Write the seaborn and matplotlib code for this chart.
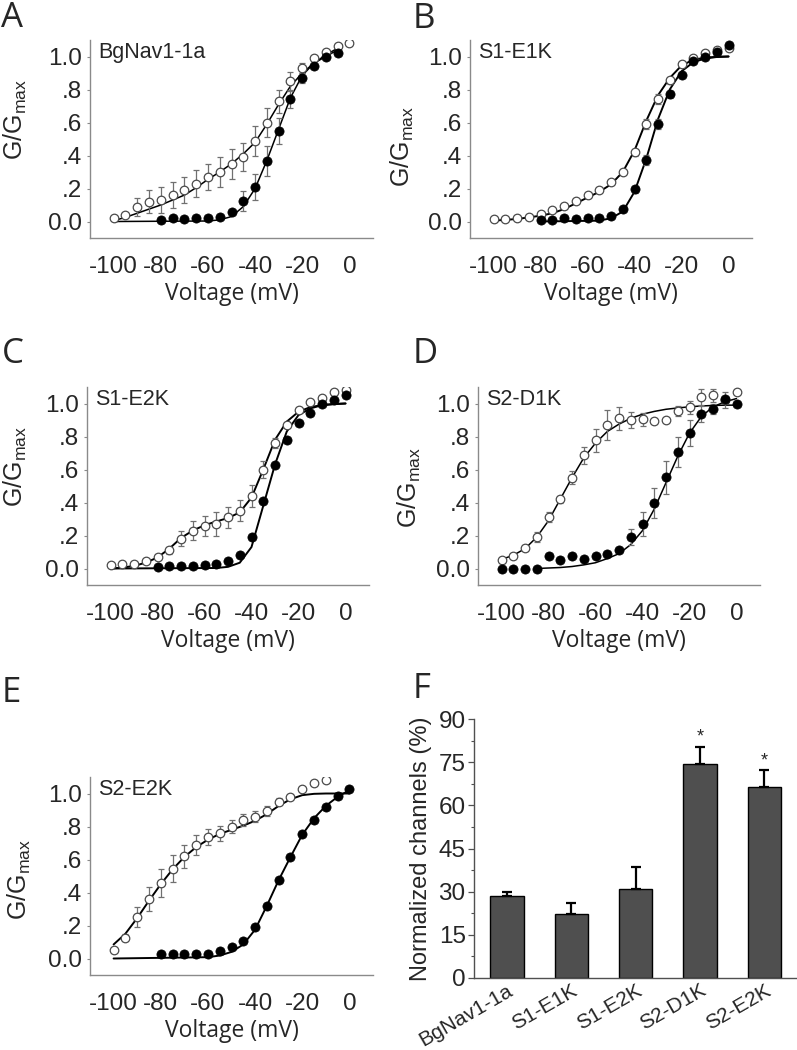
import numpy as np
import pandas as pd
import matplotlib
matplotlib.use("Agg")
import matplotlib.pyplot as plt
import seaborn as sns

# ---------------- data ----------------
volt_full = [-100, -95, -90, -85, -80, -75, -70, -65, -60, -55, -50, -45, -40, -35, -30, -25, -20, -15, -10, -5, 0]
volt_from80 = [-80, -75, -70, -65, -60, -55, -50, -45, -40, -35, -30, -25, -20, -15, -10, -5, 0]

# Panel A  (BgNav1-1a)
a_open_g = [0.02, 0.04, 0.09, 0.12, 0.13, 0.16, 0.19, 0.23, 0.27, 0.30, 0.35, 0.39, 0.49, 0.60, 0.73, 0.85, 0.93, 0.99, 1.03, 1.065, 1.08]
a_open_e = [0, 0, 0.055, 0.07, 0.08, 0.08, 0.08, 0.08, 0.08, 0.09, 0.09, 0.085, 0.09, 0.09, 0.07, 0.055, 0.03, 0.015, 0.01, 0.01, 0]
a_fill_v = [-80, -75, -70, -65, -60, -55, -50, -45, -40, -35, -30, -25, -20, -15, -10, -5]
a_fill_g = [0.01, 0.02, 0.015, 0.02, 0.02, 0.025, 0.06, 0.125, 0.21, 0.365, 0.55, 0.74, 0.87, 0.94, 1.0, 1.02]
a_fill_e = [0, 0, 0, 0, 0, 0, 0.01, 0.06, 0.08, 0.09, 0.08, 0.05, 0.03, 0.01, 0.01, 0.01]
a_open_fit_v = [-100, -95, -90, -85, -80, -75, -70, -65, -60, -55, -50, -45, -40, -35, -30, -25, -20, -15, -10, -5, -3]
a_open_fit_g = [0.005, 0.025, 0.05, 0.075, 0.10, 0.13, 0.16, 0.205, 0.255, 0.30, 0.35, 0.41, 0.48, 0.59, 0.71, 0.82, 0.90, 0.96, 1.01, 1.05, 1.07]
a_fill_fit_v = [-100, -60, -55, -50, -45, -40, -35, -30, -25, -20, -15, -10, -5, -3]
a_fill_fit_g = [0.0, 0.003, 0.01, 0.03, 0.09, 0.20, 0.37, 0.56, 0.75, 0.885, 0.96, 1.0, 1.04, 1.06]

# Panel B  (S1-E1K)
b_open_g = [0.016, 0.016, 0.02, 0.03, 0.045, 0.067, 0.096, 0.127, 0.163, 0.19, 0.24, 0.30, 0.42, 0.59, 0.74, 0.855, 0.955, 0.99, 1.02, 1.04, 1.05]
b_open_e = [0, 0, 0, 0, 0, 0, 0, 0, 0, 0, 0, 0.01, 0.02, 0.03, 0.03, 0.02, 0.01, 0, 0, 0, 0.01]
b_fill_g = [0.01, 0.01, 0.02, 0.015, 0.02, 0.02, 0.035, 0.075, 0.195, 0.375, 0.59, 0.77, 0.89, 0.97, 1.0, 1.03, 1.07]
b_fill_e = [0, 0, 0, 0, 0, 0, 0, 0.01, 0.02, 0.03, 0.03, 0.02, 0.01, 0.01, 0, 0, 0]
b_open_fit_g = [0.005, 0.01, 0.015, 0.025, 0.035, 0.05, 0.075, 0.11, 0.145, 0.18, 0.225, 0.30, 0.43, 0.61, 0.765, 0.87, 0.945, 0.98, 0.993, 0.998, 1.0]
b_fill_fit_v = [-80, -55, -50, -45, -40, -35, -30, -25, -20, -15, -10, -5, 0]
b_fill_fit_g = [0.0, 0.005, 0.02, 0.06, 0.18, 0.38, 0.62, 0.80, 0.91, 0.965, 0.988, 0.997, 1.0]

# Panel C  (S1-E2K)
c_open_g = [0.02, 0.026, 0.03, 0.047, 0.067, 0.11, 0.18, 0.23, 0.26, 0.27, 0.31, 0.35, 0.44, 0.60, 0.76, 0.87, 0.96, 1.01, 1.035, 1.07, 1.08]
c_open_e = [0, 0, 0, 0, 0, 0.02, 0.045, 0.055, 0.06, 0.07, 0.065, 0.065, 0.065, 0.05, 0.03, 0.01, 0, 0, 0, 0, 0]
c_fill_g = [0.012, 0.016, 0.016, 0.016, 0.02, 0.03, 0.047, 0.083, 0.19, 0.41, 0.625, 0.78, 0.88, 0.94, 0.995, 1.02, 1.05]
c_fill_e = [0, 0, 0, 0, 0, 0, 0, 0, 0.01, 0.01, 0.01, 0.01, 0, 0, 0, 0, 0]
c_open_fit_g = [0.0, 0.005, 0.016, 0.035, 0.067, 0.12, 0.185, 0.23, 0.262, 0.285, 0.306, 0.34, 0.43, 0.60, 0.78, 0.89, 0.95, 0.978, 0.99, 0.996, 1.0]
c_fill_fit_v = [-100, -55, -50, -45, -40, -35, -30, -25, -20, -15, -10, -5, 0]
c_fill_fit_g = [0.0, 0.003, 0.01, 0.035, 0.13, 0.38, 0.63, 0.83, 0.93, 0.97, 0.99, 0.997, 1.0]

# Panel D  (S2-D1K)
d_open_g = [0.053, 0.077, 0.124, 0.19, 0.31, 0.42, 0.55, 0.685, 0.777, 0.87, 0.91, 0.90, 0.905, 0.895, 0.90, 0.955, 0.976, 1.04, 1.05, 1.02, 1.07]
d_open_e = [0, 0, 0.02, 0.03, 0.03, 0.02, 0.04, 0.05, 0.07, 0.09, 0.07, 0.05, 0.04, 0, 0, 0.03, 0.04, 0.05, 0.04, 0.05, 0]
d_fill_g = [0.0, 0.0, 0.0, 0.0, 0.073, 0.05, 0.073, 0.057, 0.077, 0.09, 0.114, 0.19, 0.27, 0.395, 0.554, 0.706, 0.82, 0.935, 0.966, 1.026, 1.0]
d_fill_e = [0, 0, 0, 0, 0, 0, 0, 0, 0, 0, 0, 0.05, 0.07, 0.09, 0.10, 0.09, 0.08, 0.05, 0.03, 0, 0]
d_open_fit_g = [0.055, 0.08, 0.12, 0.19, 0.29, 0.42, 0.55, 0.67, 0.76, 0.83, 0.875, 0.91, 0.935, 0.952, 0.965, 0.973, 0.98, 0.985, 0.988, 0.99, 0.99]
d_fill_fit_v = [-85, -80, -75, -70, -65, -60, -55, -50, -45, -40, -35, -30, -25, -20, -15, -10, -5, 0]
d_fill_fit_g = [0.0, 0.003, 0.006, 0.012, 0.022, 0.035, 0.06, 0.09, 0.145, 0.23, 0.36, 0.52, 0.68, 0.82, 0.92, 0.98, 1.01, 1.03]

# Panel E  (S2-E2K)
e_open_v = [-100, -95, -90, -85, -80, -75, -70, -65, -60, -55, -50, -45, -40, -35, -30, -25, -20, -15, -10]
e_open_g = [0.05, 0.127, 0.25, 0.36, 0.455, 0.545, 0.62, 0.687, 0.737, 0.76, 0.80, 0.84, 0.86, 0.895, 0.95, 0.98, 1.026, 1.065, 1.08]
e_open_e = [0, 0.02, 0.06, 0.075, 0.085, 0.08, 0.07, 0.06, 0.05, 0.045, 0.04, 0.035, 0.035, 0.03, 0.02, 0.01, 0, 0, 0]
e_fill_g = [0.026, 0.026, 0.03, 0.03, 0.03, 0.046, 0.067, 0.105, 0.19, 0.32, 0.475, 0.616, 0.754, 0.842, 0.92, 0.984, 1.03]
e_fill_e = [0, 0, 0, 0, 0, 0, 0, 0, 0.01, 0.01, 0.01, 0.01, 0.01, 0, 0, 0, 0]
e_open_fit_g = [0.085, 0.15, 0.245, 0.35, 0.45, 0.54, 0.615, 0.675, 0.72, 0.755, 0.78, 0.805, 0.835, 0.875, 0.925, 0.965, 0.99, 0.998, 1.0, 1.0, 1.0]
e_fill_fit_v = [-100, -60, -55, -50, -45, -40, -35, -30, -25, -20, -15, -10, -5, 0]
e_fill_fit_g = [0.0, 0.008, 0.018, 0.04, 0.085, 0.175, 0.32, 0.475, 0.615, 0.75, 0.85, 0.925, 0.98, 1.02]

# Panel F
f_categories = ["BgNav1-1a", "S1-E1K", "S1-E2K", "S2-D1K", "S2-E2K"]
f_values = [28.4, 22.2, 31.1, 74.5, 66.4]
f_errors = [1.5, 3.9, 7.6, 5.9, 5.8]
f_signif = ["", "", "", "*", "*"]

x_ticks = [-100, -80, -60, -40, -20, 0]
y_ticks = [0.0, 0.2, 0.4, 0.6, 0.8, 1.0]
y_ticklabels = ["0.0", ".2", ".4", ".6", ".8", "1.0"]
f_yticks = [0, 15, 30, 45, 60, 75, 90]

# ---------------- style ----------------
sns.set_style("white")
plt.rcParams["font.family"] = ["Liberation Sans", "DejaVu Sans"]
plt.rcParams["mathtext.fontset"] = "custom"
plt.rcParams["mathtext.rm"] = "Liberation Sans"
plt.rcParams["mathtext.it"] = "Liberation Sans"

W, H = 797, 1050
fig = plt.figure(figsize=(W / 100, H / 100), dpi=100)


def box(x0, x1, y0, y1):
    return [x0 / W, 1 - y1 / H, (x1 - x0) / W, (y1 - y0) / H]


SPINE = "#8a8a8a"
ERR = "#707070"


def gv_panel(rect, name, open_v, open_g, open_e, fill_v, fill_g, fill_e,
             ofit_v, ofit_g, ffit_v, ffit_g, lw=1.4, ylab_xy=(-0.21, 0.5)):
    ax = fig.add_axes(rect)
    sns.lineplot(x=ofit_v, y=ofit_g, ax=ax, color="black", lw=lw,
                 sort=False, estimator=None, zorder=2)
    sns.lineplot(x=ffit_v, y=ffit_g, ax=ax, color="black", lw=lw,
                 sort=False, estimator=None, zorder=2)
    for v, g, e in ((open_v, open_g, open_e), (fill_v, fill_g, fill_e)):
        v = np.asarray(v); g = np.asarray(g); e = np.asarray(e)
        m = e > 0
        ax.errorbar(v[m], g[m], yerr=e[m], fmt="none", ecolor=ERR,
                    elinewidth=0.9, capsize=2.4, capthick=0.9, zorder=3)
    sns.scatterplot(x=open_v, y=open_g, ax=ax, marker="o", s=38,
                    facecolor="white", edgecolor="#4a4a4a", linewidth=0.9,
                    zorder=4)
    sns.scatterplot(x=fill_v, y=fill_g, ax=ax, marker="o", s=44,
                    color="black", edgecolor="black", linewidth=0.5, zorder=5)
    ax.set_xlim(-110, 10)
    ax.set_ylim(-0.1, 1.1)
    ax.set_xticks(x_ticks)
    ax.set_xticklabels([str(t) for t in x_ticks])
    ax.set_yticks(y_ticks)
    ax.set_yticklabels(y_ticklabels)
    for s in ("top", "right"):
        ax.spines[s].set_visible(False)
    for s in ("left", "bottom"):
        ax.spines[s].set_color(SPINE)
        ax.spines[s].set_linewidth(1.0)
    ax.tick_params(axis="y", direction="out", length=2.5, width=0.8,
                   color=SPINE, labelsize=17.5, pad=3, left=True)
    ax.tick_params(axis="x", length=0, labelsize=17.5, pad=13, bottom=True)
    ax.set_ylabel("G/G$_{\\mathrm{max}}$", fontsize=18)
    ax.yaxis.set_label_coords(*ylab_xy)
    ax.set_xlabel("Voltage (mV)", fontsize=16.5, labelpad=3,
                  family=["Open Sans", "DejaVu Sans"])
    ax.text(0.03, 0.99, name, transform=ax.transAxes, ha="left", va="top",
            fontsize=15.5)
    ax.grid(False)
    return ax


gv_panel(box(90, 373, 40, 238), "BgNav1-1a", volt_full, a_open_g, a_open_e,
         a_fill_v, a_fill_g, a_fill_e, a_open_fit_v, a_open_fit_g,
         a_fill_fit_v, a_fill_fit_g, lw=1.1, ylab_xy=(-0.215, 0.6))
gv_panel(box(470, 752, 40, 238), "S1-E1K", volt_full, b_open_g, b_open_e,
         volt_from80, b_fill_g, b_fill_e, volt_full, b_open_fit_g,
         b_fill_fit_v, b_fill_fit_g, ylab_xy=(-0.19, 0.46))
gv_panel(box(87, 369, 387, 585), "S1-E2K", volt_full, c_open_g, c_open_e,
         volt_from80, c_fill_g, c_fill_e, volt_full, c_open_fit_g,
         c_fill_fit_v, c_fill_fit_g, ylab_xy=(-0.205, 0.6))
gv_panel(box(478, 760, 387, 585), "S2-D1K", volt_full, d_open_g, d_open_e,
         volt_full, d_fill_g, d_fill_e, volt_full, d_open_fit_g,
         d_fill_fit_v, d_fill_fit_g, lw=1.1, ylab_xy=(-0.195, 0.49))
gv_panel(box(90, 373, 777, 975), "S2-E2K", e_open_v, e_open_g, e_open_e,
         volt_from80, e_fill_g, e_fill_e, volt_full, e_open_fit_g,
         e_fill_fit_v, e_fill_fit_g, ylab_xy=(-0.2, 0.48))

# ---------------- panel F ----------------
axf = fig.add_axes(box(474, 796, 719, 978))
df = pd.DataFrame({"construct": f_categories, "value": f_values})
sns.barplot(data=df, x="construct", y="value", ax=axf, color="#4f4f4f",
            width=0.52, edgecolor="black", linewidth=1.0, errorbar=None,
            saturation=1)
xpos = np.arange(len(f_categories))
axf.errorbar(xpos, f_values, yerr=[np.zeros(len(f_errors)), f_errors],
             fmt="none", ecolor="black", elinewidth=1.6, capsize=3.5,
             capthick=1.6, zorder=3)
for x, v, e, s in zip(xpos, f_values, f_errors, f_signif):
    if s:
        axf.text(x, v + e + 3.2, s, ha="center", va="center", fontsize=13)
axf.set_xlim(-0.51, 4.49)
axf.set_ylim(0, 90)
axf.set_yticks(f_yticks)
axf.set_yticks([7.5, 22.5, 37.5, 52.5, 67.5, 82.5], minor=True)
for s in ("top", "right"):
    axf.spines[s].set_visible(False)
for s in ("left", "bottom"):
    axf.spines[s].set_color("#505050")
    axf.spines[s].set_linewidth(1.0)
axf.tick_params(axis="y", which="major", direction="out", length=4,
                width=0.9, color="#505050", labelsize=17.5, pad=2, left=True)
axf.tick_params(axis="y", which="minor", direction="out", length=2,
                width=0.8, color="#505050", left=True)
axf.tick_params(axis="x", length=0, labelsize=15, pad=2)
plt.setp(axf.get_xticklabels(), rotation=30, ha="right",
         rotation_mode="anchor")
axf.set_xlabel("")
axf.set_ylabel("Normalized channels (%)", fontsize=17, labelpad=5)
axf.grid(False)

# ---------------- panel letters ----------------
letter_kw = dict(fontsize=25, ha="left", va="baseline",
                 family=["Open Sans", "DejaVu Sans"])
for lab, x, y in (("A", 1, 27), ("B", 413, 28), ("C", 2, 363),
                  ("D", 413, 363), ("E", 2, 702), ("F", 413, 698)):
    fig.text(x / W, 1 - y / H, lab, **letter_kw)

fig.savefig("out.png", dpi=100)
